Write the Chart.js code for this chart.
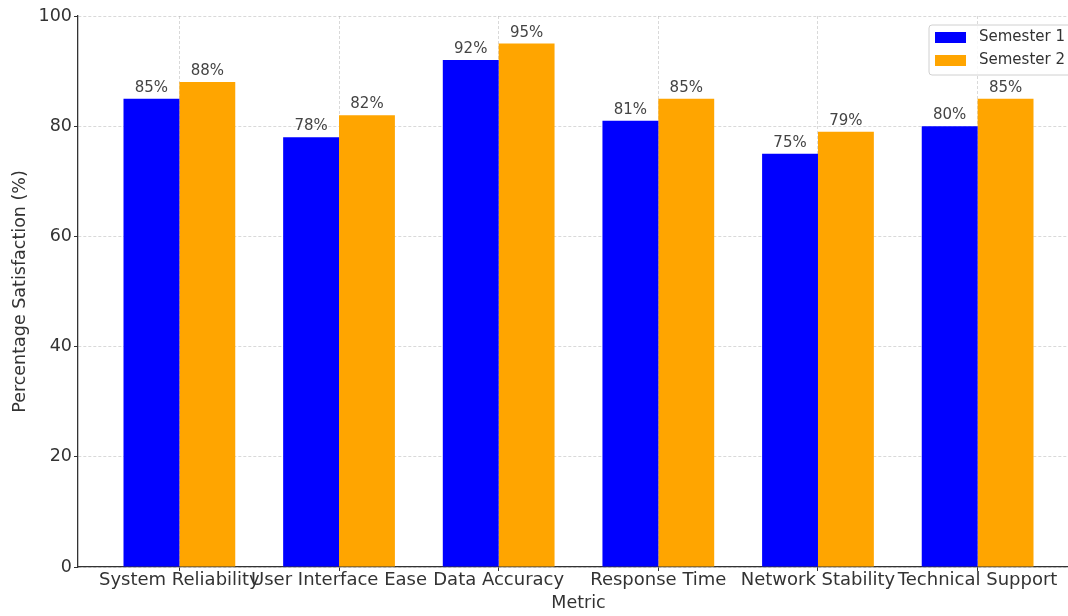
<!DOCTYPE html>
<html>
<head>
<meta charset="utf-8">
<title>Satisfaction by Metric</title>
<script src="https://cdn.jsdelivr.net/npm/chart.js@4/dist/chart.umd.min.js"></script>
<style>
  html, body { margin: 0; padding: 0; background: #fff; overflow: hidden; width: 1068px; height: 616px; }
  canvas { display: block; }
</style>
</head>
<body>
<canvas id="chart" width="1090" height="616"></canvas>
<script>
// Survey results per metric
const metrics = ['System Reliability', 'User Interface Ease', 'Data Accuracy', 'Response Time', 'Network Stability', 'Technical Support'];
const semester1 = [85, 78, 92, 81, 75, 80];
const semester2 = [88, 82, 95, 85, 79, 85];
const seriesNames = ['Semester 1', 'Semester 2'];
const yTicks = [0, 20, 40, 60, 80, 100];

const FONT = '"DejaVu Sans", "Liberation Sans", sans-serif';
Chart.defaults.font.family = FONT;
Chart.defaults.color = '#333';

const GRID = 'rgba(170,170,170,0.45)';

// Percent labels above each bar
const valueLabels = {
  id: 'valueLabels',
  afterDatasetsDraw(chart) {
    const ctx = chart.ctx;
    ctx.save();
    ctx.font = '15px ' + FONT;
    ctx.fillStyle = '#444';
    ctx.textAlign = 'center';
    ctx.textBaseline = 'alphabetic';
    chart.data.datasets.forEach((ds, di) => {
      chart.getDatasetMeta(di).data.forEach((bar, i) => {
        ctx.fillText(ds.data[i].y + '%', bar.x, bar.y - 7);
      });
    });
    ctx.restore();
  }
};

// Boxed legend in the upper right corner of the plot
const cornerLegend = {
  id: 'cornerLegend',
  afterDraw(chart) {
    const ctx = chart.ctx;
    const area = chart.chartArea;
    ctx.save();
    ctx.font = '15px ' + FONT;
    const textW = Math.max(...chart.data.datasets.map(d => ctx.measureText(d.label).width));
    const w = 6 + 31 + 13 + textW + 7;
    const h = 50;
    const right = area.right - 7;
    const left = right - w;
    const top = area.top + 9;
    ctx.beginPath();
    ctx.roundRect(left, top, w, h, 3);
    ctx.fillStyle = 'rgba(255,255,255,0.85)';
    ctx.fill();
    ctx.lineWidth = 1;
    ctx.strokeStyle = '#d0d0d0';
    ctx.stroke();
    ctx.textAlign = 'left';
    ctx.textBaseline = 'middle';
    chart.data.datasets.forEach((ds, i) => {
      const cy = top + 12.5 + i * 23;
      ctx.fillStyle = ds.backgroundColor;
      ctx.fillRect(left + 6, cy - 5.5, 31, 11);
      ctx.fillStyle = '#333';
      ctx.fillText(ds.label, left + 50, cy);
    });
    ctx.restore();
  }
};

const toPoints = vals => vals.map((v, i) => ({ x: i, y: v }));

new Chart(document.getElementById('chart'), {
  type: 'bar',
  data: {
    datasets: [
      { label: seriesNames[0], data: toPoints(semester1), backgroundColor: '#0000ff', borderWidth: 0 },
      { label: seriesNames[1], data: toPoints(semester2), backgroundColor: '#ffa500', borderWidth: 0 }
    ]
  },
  options: {
    responsive: false,
    animation: false,
    devicePixelRatio: 1,
    categoryPercentage: 0.7,
    barPercentage: 1.0,
    layout: { padding: { left: 0, top: 16, right: 11, bottom: 0 } },
    plugins: {
      legend: { display: false },
      tooltip: { enabled: false }
    },
    scales: {
      x: {
        type: 'linear',
        min: -0.635,
        max: 5.635,
        offset: false,
        z: 1,
        afterBuildTicks(scale) { scale.ticks = metrics.map((_, i) => ({ value: i })); },
        afterFit(scale) { scale.height = 49; scale.paddingLeft = 0; scale.paddingRight = 0; },
        ticks: {
          autoSkip: false,
          maxRotation: 0,
          minRotation: 0,
          padding: 0,
          color: '#333',
          font: { size: 18, lineHeight: 1.0 },
          callback: value => metrics[value]
        },
        grid: { offset: false, color: GRID, lineWidth: 1, tickLength: 4, tickColor: '#333', tickWidth: 1 },
        border: { display: true, color: '#333', width: 1.3, dash: [3, 2] },
        title: { display: true, text: 'Metric', color: '#333', font: { size: 17.5 }, padding: { top: 0, bottom: 2.5 } }
      },
      y: {
        min: 0,
        max: 100,
        z: 1,
        afterBuildTicks(scale) { scale.ticks = yTicks.map(v => ({ value: v })); },
        afterFit(scale) { scale.width = 78; },
        ticks: { padding: 2, color: '#333', font: { size: 17.5 } },
        grid: { color: GRID, lineWidth: 1, tickLength: 4, tickColor: '#333', tickWidth: 1 },
        border: { display: true, color: '#333', width: 1.3, dash: [3, 2] },
        title: { display: true, text: 'Percentage Satisfaction (%)', color: '#333', font: { size: 17.5 }, padding: { top: 10, bottom: 0 } }
      }
    }
  },
  plugins: [valueLabels, cornerLegend]
});
</script>
</body>
</html>
